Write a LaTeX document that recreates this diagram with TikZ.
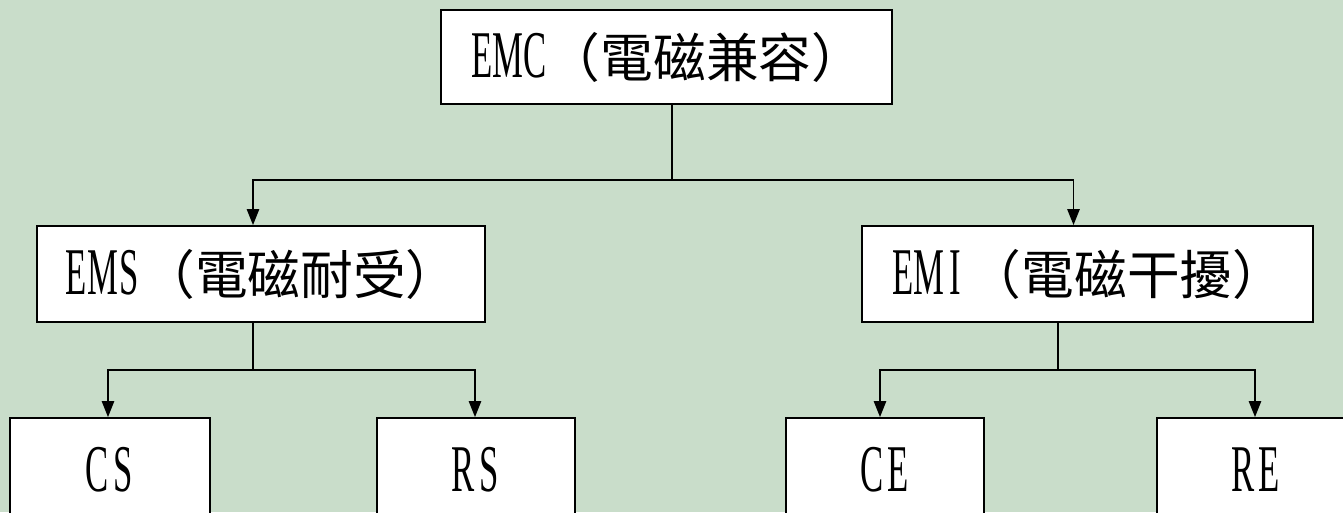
\documentclass[tikz,border=0pt]{standalone}
\usepackage{fontspec}
\setmainfont{Liberation Serif}[FakeStretch=0.52]
\newfontfamily\cjk{Noto Sans CJK TC}
\usetikzlibrary{arrows.meta}
\definecolor{bg}{HTML}{C9DDCA}
\newcommand\hc[1]{\makebox[15pt]{\fontsize{38}{40}\selectfont #1}}
\tikzset{
  box/.style={draw=black, line width=1.1pt, fill=white, inner sep=0pt,
    font=\fontsize{30}{36}\selectfont},
  conn/.style={line width=0.8pt},
  arr/.style={conn, -{Triangle[length=9pt,width=7pt]}}
}
\begin{document}
\begin{tikzpicture}[x=0.02cm,y=-0.02cm]
\fill[bg] (0,0) rectangle (1343,512);
\useasboundingbox (0,0) rectangle (1343,512);
\node[box, minimum width=9.02cm, minimum height=1.88cm] (emc) at (666.5,57)
  {\hc{E}\hc{M}\hc{C}{\cjk （電磁兼容）}};
\node[box, minimum width=8.96cm, minimum height=1.92cm] (ems) at (261,274)
  {\hc{E}\hc{M}\hc{S}{\cjk （電磁耐受）}};
\node[box, minimum width=9.02cm, minimum height=1.92cm] (emi) at (1087.5,274)
  {\hc{E}\hc{M}\hc{I}{\cjk （電磁干擾）}};
\node[box, minimum width=4cm, minimum height=2.08cm] (cs) at (110,470) {\hc{C}\hc{S}};
\node[box, minimum width=3.96cm, minimum height=2.08cm] (rs) at (476,470) {\hc{R}\hc{S}};
\node[box, minimum width=3.96cm, minimum height=2.08cm] (ce) at (885,470) {\hc{C}\hc{E}};
\node[box, minimum width=3.96cm, minimum height=2.08cm] (re) at (1256,470) {\hc{R}\hc{E}};
% junctions
\coordinate (j0) at (672,180);
\coordinate (j1) at (253,370);
\coordinate (j2) at (1058,370);
\draw[conn] (emc.south -| j0) -- (j0);
\draw[arr] (j0) -| (ems.north -| j1);
\draw[arr] (j0) -| ([xshift=-0.28cm]emi.north);
\draw[conn] (ems.south -| j1) -- (j1);
\draw[arr] (j1) -| ([xshift=-0.04cm]cs.north);
\draw[arr] (j1) -| ([xshift=-0.02cm]rs.north);
\draw[conn] (emi.south -| j2) -- (j2);
\draw[arr] (j2) -| ([xshift=-0.1cm]ce.north);
\draw[arr] (j2) -| ([xshift=-0.02cm]re.north);
\end{tikzpicture}
\end{document}
